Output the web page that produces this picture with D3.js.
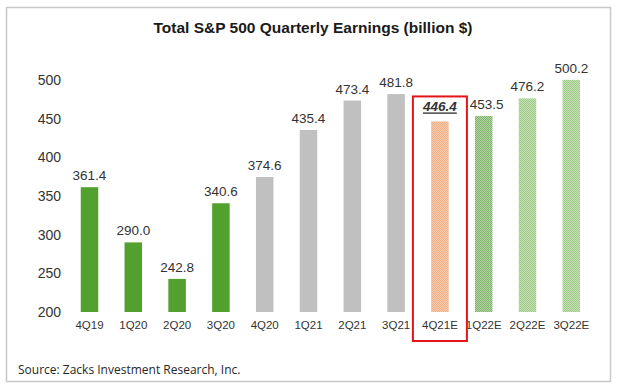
<!DOCTYPE html>
<html>
<head>
<meta charset="utf-8">
<script src="https://cdn.jsdelivr.net/npm/d3@7"></script>
<style>
  body { margin: 0; background: #fff; }
  text { font-family: "Liberation Sans", Arial, sans-serif; }
</style>
</head>
<body>
<div id="chart"></div>
<script>
const categories = ["4Q19", "1Q20", "2Q20", "3Q20", "4Q20", "1Q21", "2Q21", "3Q21", "4Q21E", "1Q22E", "2Q22E", "3Q22E"];
const earnings = [361.4, 290.0, 242.8, 340.6, 374.6, 435.4, 473.4, 481.8, 446.4, 453.5, 476.2, 500.2];
const yTicks = [200, 250, 300, 350, 400, 450, 500];
const highlight = "4Q21E";

// fill per bar, by position
const barFill = ["url(#solidGreen)", "url(#solidGreen)", "url(#solidGreen)", "url(#solidGreen)",
  "#c0c0c0", "#c0c0c0", "#c0c0c0", "#c0c0c0",
  "url(#hatchOrange)", "url(#hatchGreenDark)", "url(#hatchGreen)", "url(#hatchGreen)"];

const width = 620, height = 389;

const svg = d3.select("#chart").append("svg")
  .attr("width", width)
  .attr("height", height);

const defs = svg.append("defs");
function checker(id, c1, c2) {
  const p = defs.append("pattern")
    .attr("id", id)
    .attr("patternUnits", "userSpaceOnUse")
    .attr("width", 2).attr("height", 2);
  p.append("rect").attr("width", 2).attr("height", 2).attr("fill", c2);
  p.append("rect").attr("width", 1).attr("height", 1).attr("fill", c1);
  p.append("rect").attr("x", 1).attr("y", 1).attr("width", 1).attr("height", 1).attr("fill", c1);
}
checker("solidGreen", "#52a02e", "#52a02e");
checker("hatchOrange", "#f1ae84", "#f8cdb0");
checker("hatchGreenDark", "#82b56c", "#b2d3a3");
checker("hatchGreen", "#9dcb85", "#c6e1b6");

// frame
svg.append("rect")
  .attr("x", 6.5).attr("y", 7.5)
  .attr("width", 604).attr("height", 374)
  .attr("fill", "none")
  .attr("stroke", "#c8c8c8")
  .attr("stroke-width", 1.5);

svg.append("text")
  .attr("x", 313).attr("y", 33)
  .attr("text-anchor", "middle")
  .style("font-size", "15.5px")
  .style("font-weight", "bold")
  .style("fill", "#1a1a1a")
  .text("Total S&P 500 Quarterly Earnings (billion $)");

const x = d3.scaleBand()
  .domain(categories)
  .range([67.6, 593.2])
  .paddingInner(0.6)
  .paddingOuter(0.3);

const y = d3.scaleLinear()
  .domain([200, 500])
  .range([312, 80]);

// y axis (labels only)
const yAxis = svg.append("g")
  .attr("transform", "translate(61,0)")
  .call(d3.axisLeft(y).tickValues(yTicks).tickSize(0).tickPadding(0));
yAxis.select(".domain").remove();
yAxis.selectAll("text")
  .style("font-size", "14px")
  .style("fill", "#333")
  .style("font-family", "'Liberation Sans', Arial, sans-serif");

// x axis (labels only)
const xAxis = svg.append("g")
  .attr("transform", `translate(0,${y(200)})`)
  .call(d3.axisBottom(x).tickSize(0).tickPadding(9));
xAxis.select(".domain").remove();
xAxis.selectAll("text")
  .style("font-size", "11.5px")
  .style("fill", "#333")
  .style("font-family", "'Liberation Sans', Arial, sans-serif");

svg.append("g").selectAll("rect")
  .data(earnings)
  .enter().append("rect")
  .attr("x", (d, i) => x(categories[i]))
  .attr("y", d => y(d))
  .attr("width", x.bandwidth())
  .attr("height", d => y(200) - y(d))
  .attr("fill", (d, i) => barFill[i]);

svg.append("g").selectAll("text")
  .data(earnings)
  .enter().append("text")
  .attr("x", (d, i) => x(categories[i]) + x.bandwidth() / 2 + (categories[i] === "1Q22E" ? 3 : 0))
  .attr("y", (d, i) => y(d) - (categories[i] === highlight ? 10 : 7))
  .attr("text-anchor", "middle")
  .style("font-size", "13.5px")
  .style("fill", "#333")
  .style("font-weight", (d, i) => categories[i] === highlight ? "bold" : "normal")
  .style("font-style", (d, i) => categories[i] === highlight ? "italic" : "normal")
  .style("text-decoration", (d, i) => categories[i] === highlight ? "underline" : "none")
  .text(d => d.toFixed(1));

// red box around the current-quarter estimate
const hi = earnings[categories.indexOf(highlight)];
const cx = x(highlight) + x.bandwidth() / 2;
svg.append("rect")
  .attr("x", cx - 27)
  .attr("y", y(hi) - 25)
  .attr("width", 54)
  .attr("height", y(200) + 29 - (y(hi) - 25))
  .attr("fill", "none")
  .attr("stroke", "#e3151a")
  .attr("stroke-width", 2);

svg.append("text")
  .attr("x", 18).attr("y", 374)
  .style("font-size", "12px")
  .style("fill", "#262626")
  .style("font-family", "'Open Sans', sans-serif")
  .text("Source: Zacks Investment Research, Inc.");
</script>
</body>
</html>
